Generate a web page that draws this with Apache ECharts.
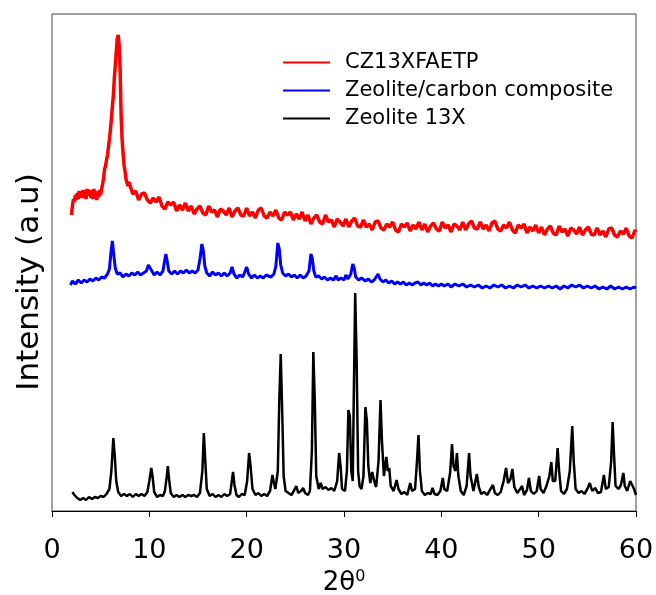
<!DOCTYPE html>
<html><head><meta charset="utf-8">
<script src="https://cdn.jsdelivr.net/npm/echarts@6/dist/echarts.min.js"></script>
<style>html,body{margin:0;padding:0;background:#fff}#c{width:656px;height:595px}</style>
</head><body><div id="c"></div>
<script>
const seriesNames = ['CZ13XFAETP', 'Zeolite/carbon composite', 'Zeolite 13X'];
const xTicks = [0, 10, 20, 30, 40, 50, 60];

const redData = [[2.0,296],[2.1,305],[2.2,312],[2.3,309],[2.4,316],[2.5,311],[2.6,318],[2.7,312],[2.8,320],[2.9,314],[3.0,319],[3.1,313],[3.2,321],[3.3,315],[3.4,318],[3.5,312],[3.6,322],[3.7,316],[3.8,314],[3.9,321],[4.0,313],[4.1,319],[4.2,312],[4.3,322],[4.4,315],[4.5,320],[4.6,311],[4.7,319],[4.8,314],[4.9,321],[5.0,316],[5.1,322],[5.2,327],[5.3,333],[5.4,342],[5.5,345],[5.6,351],[5.7,356],[5.8,364],[5.9,372],[6.0,381],[6.1,392],[6.2,404],[6.3,415],[6.4,432],[6.5,445],[6.6,458],[6.7,472],[6.8,476],[6.9,466],[7.0,440],[7.1,396],[7.2,372],[7.3,358],[7.4,346],[7.5,340],[7.6,332],[7.7,333],[7.8,325],[7.9,329],
[8.0,327],[8.3,317],[8.6,320],[8.9,311],[9.2,317],[9.5,318],[9.8,311],[10.1,308],[10.4,313],[10.7,309],[11.0,314],[11.3,305],[11.6,302],[11.9,309],[12.2,306],[12.5,309],[12.8,300],[13.1,306],[13.4,301],[13.7,308],[14.0,300],[14.3,305],[14.6,297],[14.9,302],[15.2,305],[15.5,298],[15.8,296],[16.1,305],[16.4,299],[16.7,301],[17.0,294],[17.3,302],[17.6,300],[17.9,296],[18.2,303],[18.5,294],[18.8,300],[19.1,303],[19.4,296],[19.7,295],[20.0,303],[20.3,295],[20.6,299],[20.9,293],[21.2,301],[21.5,303],[21.8,295],[22.1,293],[22.4,299],[22.7,295],[23.0,301],[23.3,293],[23.6,291],[23.9,299],[24.2,296],[24.5,299],[24.8,291],[25.1,297],[25.4,292],[25.7,299],[26.0,290],[26.3,296],[26.6,287],[26.9,293],[27.2,296],[27.5,289],[27.8,287],[28.1,296],[28.4,289],[28.7,291],[29.0,284],[29.3,292],[29.6,289],[29.9,285],[30.2,292],[30.5,284],[30.8,290],[31.1,293],[31.4,285],[31.7,284],[32.0,291],[32.3,284],[32.6,287],[32.9,281],[33.2,289],[33.5,290],[33.8,283],[34.1,281],[34.4,287],[34.7,284],[35.0,289],[35.3,281],[35.6,279],[35.9,287],[36.2,284],[36.5,288],[36.8,280],[37.1,286],[37.4,282],[37.7,289],[38.0,281],[38.3,287],[38.6,279],[38.9,285],[39.2,288],[39.5,282],[39.8,280],[40.1,289],[40.4,283],[40.7,286],[41.0,279],[41.3,287],[41.6,285],[41.9,281],[42.2,289],[42.5,281],[42.8,287],[43.1,290],[43.4,283],[43.7,282],[44.0,289],[44.3,282],[44.6,286],[44.9,280],[45.2,288],[45.5,290],[45.8,282],[46.1,280],[46.4,286],[46.7,283],[47.0,289],[47.3,281],[47.6,278],[47.9,286],[48.2,283],[48.5,287],[48.8,278],[49.1,284],[49.4,280],[49.7,286],[50.0,278],[50.3,284],[50.6,276],[50.9,282],[51.2,285],[51.5,278],[51.8,276],[52.1,285],[52.4,279],[52.7,282],[53.0,275],[53.3,283],[53.6,281],[53.9,277],[54.2,284],[54.5,276],[54.8,281],[55.1,284],[55.4,277],[55.7,276],[56.0,283],[56.3,276],[56.6,280],[56.9,274],[57.2,282],[57.5,283],[57.8,276],[58.1,274],[58.4,280],[58.7,277],[59.0,283],[59.3,275],[59.6,273],[59.9,281],[60.0,279]];

const blueData = [[1.9,226],[2.1,230],[2.4,227],[2.7,231],[3.0,228],[3.3,231],[3.6,229],[3.9,232],[4.2,230],[4.5,233],[4.8,231],[5.1,234],[5.4,233],[5.7,237],[5.9,242],[6.05,258],[6.2,270],[6.35,256],[6.5,243],[6.7,237],[7.0,238],[7.3,234],[7.6,237],[7.9,235],[8.2,238],[8.5,236],[8.8,239],[9.1,236],[9.4,238],[9.7,240],[9.9,246],[10.05,247],[10.2,241],[10.5,236],[10.8,239],[11.1,236],[11.4,240],[11.55,249],[11.7,257],[11.85,249],[12.0,240],[12.3,237],[12.6,240],[12.9,237],[13.2,240],[13.5,238],[13.8,241],[14.1,238],[14.4,240],[14.7,238],[15.0,241],[15.2,252],[15.4,267],[15.55,260],[15.7,245],[15.9,238],[16.2,235],[16.5,239],[16.8,236],[17.1,238],[17.4,235],[17.7,238],[18.0,235],[18.3,238],[18.5,244],[18.7,237],[19.0,233],[19.3,236],[19.6,234],[19.85,240],[20.0,244],[20.2,237],[20.5,233],[20.8,236],[21.1,233],[21.4,235],[21.7,233],[22.0,236],[22.2,238],[22.5,234],[22.8,237],[23.0,245],[23.2,268],[23.35,262],[23.5,246],[23.7,238],[24.0,235],[24.3,237],[24.6,234],[24.9,236],[25.2,233],[25.5,236],[25.8,233],[26.1,235],[26.4,240],[26.6,257],[26.75,252],[26.9,240],[27.1,234],[27.4,235],[27.7,232],[28.0,234],[28.3,231],[28.6,233],[28.9,231],[29.2,235],[29.4,231],[29.7,233],[30.0,231],[30.2,236],[30.4,232],[30.7,237],[30.9,247],[31.05,243],[31.2,234],[31.5,231],[31.8,233],[32.0,235],[32.2,230],[32.5,232],[32.8,229],[33.1,231],[33.5,237],[33.7,232],[34.0,229],[34.3,231],[34.6,228],[34.9,230],[35.2,227],[35.5,229],[35.8,227],[36.1,229],[36.4,226],[36.7,228],[37.0,226],[37.3,228],[37.6,229],[37.9,226],[38.2,228],[38.5,226],[38.8,228],[39.1,225],[39.4,227],[39.7,225],[40.0,227],[40.3,225],[40.7,227],[41.0,224],[41.4,227],[41.8,225],[42.2,227],[42.6,224],[43.0,226],[43.4,224],[43.8,226],[44.2,223],[44.6,225],[45.0,223],[45.4,226],[45.8,224],[46.2,226],[46.6,223],[47.0,225],[47.4,223],[47.8,226],[48.2,224],[48.6,226],[49.0,223],[49.4,225],[49.8,223],[50.2,225],[50.6,223],[51.0,225],[51.4,223],[51.8,225],[52.2,222],[52.6,225],[53.0,223],[53.4,226],[53.8,224],[54.2,226],[54.6,223],[55.0,225],[55.4,223],[55.8,225],[56.2,222],[56.6,224],[57.0,222],[57.4,225],[57.8,222],[58.2,224],[58.6,222],[59.0,224],[59.4,222],[59.8,224],[60.0,223]];

const blackData = [[2.1,19],[2.3,16],[2.6,13],[2.9,11],[3.2,13],[3.5,11],[3.8,14],[4.1,12],[4.4,14],[4.7,13],[5.0,15],[5.3,14],[5.6,17],[5.9,22],[6.1,40],[6.3,73],[6.45,55],[6.6,30],[6.8,19],[7.1,15],[7.4,17],[7.7,15],[8.0,17],[8.3,14],[8.6,17],[8.9,15],[9.2,17],[9.5,15],[9.8,19],[10.0,30],[10.2,43],[10.35,33],[10.5,19],[10.8,14],[11.1,16],[11.4,15],[11.6,20],[11.8,35],[11.9,45],[12.05,30],[12.2,18],[12.5,14],[12.8,16],[13.1,14],[13.4,16],[13.7,14],[14.0,16],[14.3,15],[14.6,16],[14.9,14],[15.2,18],[15.45,40],[15.6,78],[15.75,50],[15.9,22],[16.2,15],[16.5,17],[16.8,14],[17.1,16],[17.4,14],[17.7,17],[18.0,15],[18.3,17],[18.45,28],[18.6,39],[18.75,26],[18.95,16],[19.2,14],[19.5,17],[19.8,16],[20.05,30],[20.25,58],[20.4,45],[20.6,22],[20.9,16],[21.2,18],[21.5,15],[21.8,17],[22.1,15],[22.4,20],[22.65,36],[22.8,28],[22.95,22],[23.2,40],[23.35,110],[23.5,157],[23.65,100],[23.8,35],[24.0,20],[24.3,18],[24.6,16],[24.9,21],[25.1,25],[25.3,18],[25.6,20],[25.8,23],[26.0,18],[26.3,16],[26.5,20],[26.7,60],[26.85,159],[27.0,110],[27.15,35],[27.4,22],[27.6,28],[27.8,22],[28.1,24],[28.4,21],[28.7,23],[29.0,20],[29.3,30],[29.5,58],[29.65,45],[29.8,22],[30.1,20],[30.3,40],[30.45,101],[30.6,95],[30.75,40],[30.9,30],[31.0,110],[31.15,218],[31.3,150],[31.45,40],[31.6,25],[31.8,22],[32.0,35],[32.2,104],[32.35,90],[32.5,45],[32.7,28],[32.9,39],[33.1,30],[33.3,24],[33.55,50],[33.75,111],[33.9,70],[34.1,35],[34.35,54],[34.5,40],[34.65,43],[34.8,25],[35.1,20],[35.4,31],[35.6,22],[35.9,17],[36.2,19],[36.5,16],[36.8,28],[37.0,20],[37.3,22],[37.5,50],[37.65,76],[37.8,40],[38.0,20],[38.3,16],[38.6,18],[38.9,17],[39.1,23],[39.3,17],[39.6,16],[39.9,20],[40.15,33],[40.3,22],[40.6,20],[40.9,38],[41.1,67],[41.25,45],[41.45,40],[41.6,58],[41.75,35],[42.0,20],[42.3,16],[42.6,25],[42.85,58],[43.0,35],[43.3,20],[43.65,37],[43.85,24],[44.1,17],[44.4,19],[44.7,16],[45.0,21],[45.3,26],[45.5,18],[45.8,16],[46.1,19],[46.4,30],[46.65,43],[46.85,28],[47.1,32],[47.3,42],[47.5,24],[47.8,18],[48.1,22],[48.3,25],[48.5,16],[48.8,21],[49.0,33],[49.2,20],[49.5,17],[49.8,20],[50.05,35],[50.2,22],[50.5,18],[50.8,25],[51.1,35],[51.3,49],[51.45,30],[51.7,30],[51.95,63],[52.1,40],[52.3,20],[52.6,17],[52.9,22],[53.2,40],[53.45,85],[53.6,50],[53.8,22],[54.1,18],[54.4,20],[54.7,17],[55.0,22],[55.25,28],[55.5,20],[55.8,23],[56.1,18],[56.4,19],[56.7,36],[56.9,22],[57.2,24],[57.45,50],[57.6,89],[57.75,55],[57.9,25],[58.2,22],[58.45,26],[58.7,38],[58.85,25],[59.1,20],[59.4,30],[59.6,32],[59.8,22],[60.0,16]];

const colors = ['#ff0000', '#0000ff', '#000000'];
const FONT = 'DejaVu Sans';

const chart = echarts.init(document.getElementById('c'), null, {renderer: 'canvas'});
chart.setOption({
  animation: false,
  backgroundColor: '#ffffff',
  grid: {left: 52, right: 20, top: 14, bottom: 84, show: true, borderColor: '#444', borderWidth: 1, containLabel: false, outerBoundsMode: 'none'},
  legend: {
    orient: 'vertical', left: 278, top: 47, itemGap: 7,
    itemWidth: 47, itemHeight: 2, icon: 'rect',
    data: seriesNames,
    textStyle: {fontFamily: FONT, fontSize: 21, color: '#000', padding: [0, 0, 0, 10], lineHeight: 21}
  },
  xAxis: {
    type: 'value', min: xTicks[0], max: xTicks[xTicks.length - 1], interval: 10,
    axisLine: {show: true, lineStyle: {color: '#000', width: 1}},
    axisTick: {show: true, inside: false, length: 6, lineStyle: {color: '#000'}},
    axisLabel: {fontFamily: FONT, fontSize: 27, color: '#000', margin: 26},
    splitLine: {show: false},
    name: '2θ{sup|0}', nameLocation: 'middle', nameGap: 55,
    nameTextStyle: {fontFamily: FONT, fontSize: 26, color: '#000',
      rich: {sup: {fontFamily: FONT, fontSize: 16, color: '#000', verticalAlign: 'top', padding: [0, 0, 12, 0]}}}
  },
  yAxis: {
    type: 'value', min: 0, max: 497,
    axisLine: {show: false}, axisTick: {show: false}, axisLabel: {show: false}, splitLine: {show: false}
  },
  graphic: [{
    type: 'text', x: 30, y: 282, rotation: Math.PI / 2,
    style: {text: 'Intensity (a.u)', font: '31px "DejaVu Sans"', fill: '#000', textAlign: 'center', textVerticalAlign: 'middle'}
  }],
  series: [
    {name: seriesNames[0], type: 'line', data: redData, showSymbol: false, symbol: 'none', color: colors[0], lineStyle: {width: 3.5, color: colors[0]}},
    {name: seriesNames[1], type: 'line', data: blueData, showSymbol: false, symbol: 'none', color: colors[1], lineStyle: {width: 3, color: colors[1]}},
    {name: seriesNames[2], type: 'line', data: blackData, showSymbol: false, symbol: 'none', color: colors[2], lineStyle: {width: 2.5, color: colors[2]}}
  ]
});
</script></body></html>
